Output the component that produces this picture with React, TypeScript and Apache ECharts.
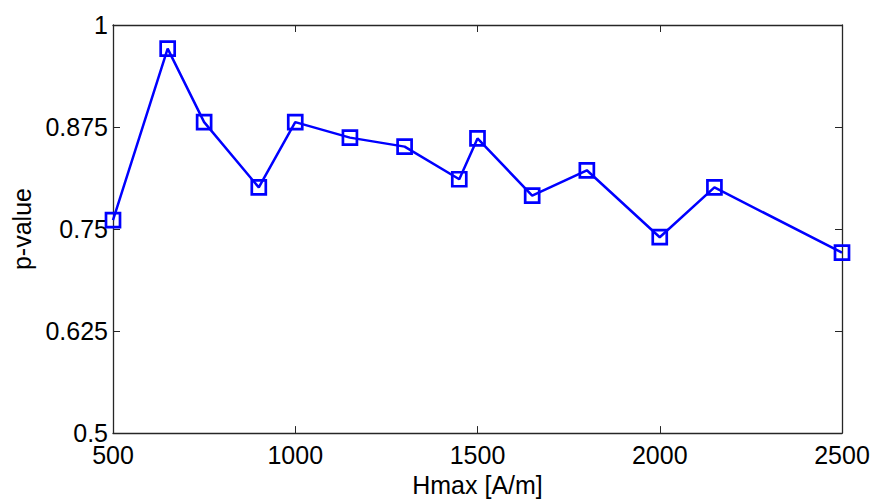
import React, { useEffect, useRef } from "react";
import * as echarts from "echarts";

const hmax = [500, 650, 750, 900, 1000, 1150, 1300, 1450, 1500, 1650, 1800, 2000, 2150, 2500];
const pValue = [0.761, 0.971, 0.881, 0.801, 0.881, 0.862, 0.851, 0.811, 0.861, 0.791, 0.822, 0.740, 0.801, 0.721];
const xTicks = { min: 500, max: 2500, interval: 500 };
const yTicks = { min: 0.5, max: 1, interval: 0.125 };

export default function App() {
  const ref = useRef<HTMLDivElement>(null);
  useEffect(() => {
    if (!ref.current) return;
    const chart = echarts.init(ref.current, undefined, { renderer: "svg" });
    const font = "'Liberation Sans', Arial, sans-serif";
    const axisLine = { show: true, onZero: false, lineStyle: { color: "#262626", width: 1.3 } };
    const tick = { show: true, inside: true, length: 7, lineStyle: { color: "#262626", width: 1 } };
    chart.setOption({
      animation: false,
      backgroundColor: "#ffffff",
      grid: { left: 113, right: 31, top: 25, bottom: 59, containLabel: false },
      xAxis: [
        {
          type: "value",
          ...xTicks,
          position: "bottom",
          axisLine,
          axisTick: tick,
          splitLine: { show: false },
          axisLabel: {
            color: "#000",
            fontFamily: font,
            fontSize: 25,
            margin: 9,
            formatter: (v: number) => String(v),
          },
          name: "Hmax [A/m]",
          nameLocation: "middle",
          nameGap: 35,
          nameTextStyle: { color: "#000", fontFamily: font, fontSize: 25 },
        },
        {
          type: "value",
          ...xTicks,
          position: "top",
          axisLine,
          axisTick: tick,
          splitLine: { show: false },
          axisLabel: { show: false },
        },
      ],
      yAxis: [
        {
          type: "value",
          ...yTicks,
          position: "left",
          axisLine,
          axisTick: tick,
          splitLine: { show: false },
          axisLabel: {
            color: "#000",
            fontFamily: font,
            fontSize: 25,
            margin: 5,
            formatter: (v: number) => String(v),
          },
          name: "p-value",
          nameLocation: "middle",
          nameGap: 72,
          nameTextStyle: { color: "#000", fontFamily: font, fontSize: 25 },
        },
        {
          type: "value",
          ...yTicks,
          position: "right",
          axisLine,
          axisTick: tick,
          splitLine: { show: false },
          axisLabel: { show: false },
        },
      ],
      series: [
        {
          type: "line",
          data: hmax.map((x, i) => [x, pValue[i]]),
          xAxisIndex: 0,
          yAxisIndex: 0,
          symbol: "rect",
          symbolSize: 14,
          showAllSymbol: true,
          lineStyle: { color: "#0000ff", width: 2.5 },
          itemStyle: { color: "rgba(0,0,0,0)", borderColor: "#0000ff", borderWidth: 2.7 },
          emphasis: { disabled: true },
        },
      ],
    });
    return () => chart.dispose();
  }, []);
  return (
    <div
      ref={ref}
      style={{ position: "fixed", left: 0, top: 0, width: 873, height: 502 }}
    />
  );
}
